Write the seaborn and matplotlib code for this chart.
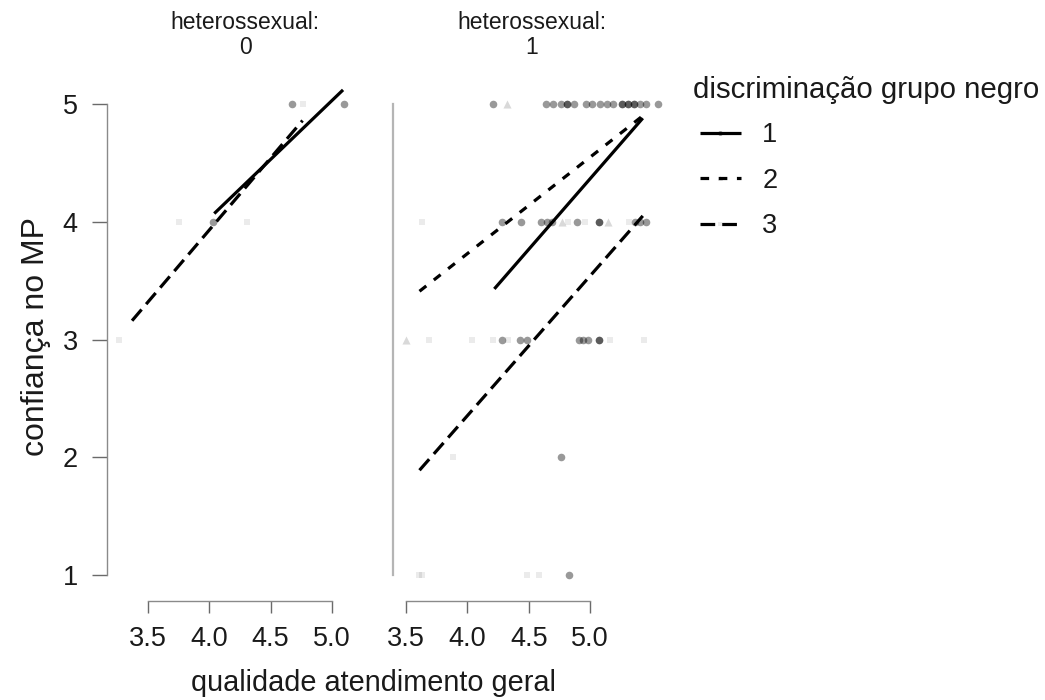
import numpy as np
import pandas as pd
import matplotlib
matplotlib.use("Agg")
import matplotlib.pyplot as plt
import seaborn as sns
from matplotlib.lines import Line2D

# ---------------- data ----------------
facet_labels = ["heterossexual:\n0", "heterossexual:\n1"]
group_levels = [1, 2, 3]
legend_title = "discriminação grupo negro"
x_label = "qualidade atendimento geral"
y_label = "confiança no MP"
x_ticks = [3.5, 4.0, 4.5, 5.0]
x_tick_labels = ["3.5", "4.0", "4.5", "5.0"]
y_ticks = [1, 2, 3, 4, 5]

# panel heterossexual = 0 : observed points
p0_x = [4.67, 5.10, 4.03, 3.75, 4.31, 4.76, 3.26]
p0_y = [5, 5, 4, 4, 4, 5, 3]
p0_g = [1, 1, 1, 3, 3, 3, 3]

# panel heterossexual = 1 : observed points
p1_x = [4.21, 4.64, 4.70, 4.76, 4.81, 4.81, 4.87, 4.97, 5.02, 5.08, 5.14, 5.19,
        5.26, 5.26, 5.31, 5.31, 5.36, 5.36, 5.41, 5.46, 5.55, 4.32,
        3.63, 4.82, 4.96, 5.32,
        4.28, 4.44, 4.60, 4.65, 4.69, 4.89, 5.07, 5.07, 5.37, 5.41, 5.46,
        4.77, 5.15,
        3.50,
        3.69, 4.04, 4.21, 4.33, 5.16, 5.44,
        4.28, 4.43, 4.49, 4.91, 4.94, 4.98, 5.07, 5.07,
        3.88, 4.76,
        3.61, 3.63, 4.49, 4.58, 4.83]
p1_y = [5, 5, 5, 5, 5, 5, 5, 5, 5, 5, 5, 5,
        5, 5, 5, 5, 5, 5, 5, 5, 5, 5,
        4, 4, 4, 4,
        4, 4, 4, 4, 4, 4, 4, 4, 4, 4, 4,
        4, 4,
        3,
        3, 3, 3, 3, 3, 3,
        3, 3, 3, 3, 3, 3, 3, 3,
        2, 2,
        1, 1, 1, 1, 1]
p1_g = [1, 1, 1, 1, 1, 1, 1, 1, 1, 1, 1, 1,
        1, 1, 1, 1, 1, 1, 1, 1, 1, 2,
        3, 3, 3, 3,
        1, 1, 1, 1, 1, 1, 1, 1, 1, 1, 1,
        2, 2,
        2,
        3, 3, 3, 3, 3, 3,
        1, 1, 1, 1, 1, 1, 1, 1,
        3, 1,
        3, 3, 3, 3, 1]

# fitted lines (start / end) per panel and group
l0_x = [4.04, 5.09, 3.37, 4.76]
l0_y = [4.07, 5.12, 3.16, 4.86]
l0_g = [1, 1, 3, 3]
l1_x = [4.22, 5.43, 3.61, 5.43, 3.61, 5.43]
l1_y = [3.43, 4.88, 3.41, 4.90, 1.89, 4.05]
l1_g = [1, 1, 2, 2, 3, 3]

# ---------------- styling ----------------
sns.set_theme(style="ticks")
plt.rcParams["font.family"] = ["Liberation Sans", "DejaVu Sans"]
plt.rcParams["lines.solid_capstyle"] = "butt"
plt.rcParams["lines.dash_capstyle"] = "butt"

pt_style = {1: dict(marker="o", color="black", alpha=0.40, s=30),
            2: dict(marker="^", color="black", alpha=0.15, s=34),
            3: dict(marker="s", color="black", alpha=0.08, s=24)}
line_style = {1: "-", 2: (0, (2.7, 3.0)), 3: (0, (4.6, 2.2))}
LW = 2.3
TXT = "#1a1a1a"

W, H = 1045, 700
fig = plt.figure(figsize=(W / 100, H / 100), dpi=100)


def ax_at(l, t, r, b):
    return fig.add_axes([l / W, 1 - b / H, (r - l) / W, (b - t) / H])


ax0 = ax_at(107, 78, 383, 590)
ax1 = ax_at(393, 78, 671, 590)

panels = [
    (ax0, pd.DataFrame({"x": p0_x, "y": p0_y, "g": p0_g}),
     pd.DataFrame({"x": l0_x, "y": l0_y, "g": l0_g}), (3.1658, 5.4157)),
    (ax1, pd.DataFrame({"x": p1_x, "y": p1_y, "g": p1_g}),
     pd.DataFrame({"x": l1_x, "y": l1_y, "g": l1_g}), (3.394, 5.660)),
]

for i, (ax, pts, lns, xl) in enumerate(panels):
    for g in [3, 2, 1]:
        d = pts[pts["g"] == g]
        if len(d):
            sns.scatterplot(data=d, x="x", y="y", ax=ax, linewidth=0,
                            legend=False, **pt_style[g])
    for g in group_levels:
        d = lns[lns["g"] == g]
        if len(d):
            sns.lineplot(data=d, x="x", y="y", ax=ax, color="black",
                         linewidth=LW, linestyle=line_style[g],
                         estimator=None, sort=False, legend=False)
    ax.set_xlim(*xl)
    ax.set_ylim(0.873, 5.221)
    ax.set_xlabel("")
    ax.set_ylabel("")
    for s in ["top", "right"]:
        ax.spines[s].set_visible(False)
    ax.spines["bottom"].set_position(("outward", 8))
    ax.spines["bottom"].set_bounds(3.5, 5.0)
    ax.spines["bottom"].set_color("#8a8a8a")
    ax.spines["bottom"].set_linewidth(1.0)
    ax.set_xticks(x_ticks)
    ax.set_xticklabels(x_tick_labels)
    ax.tick_params(axis="x", length=8.6, width=1.0, color="#6a6a6a", pad=9,
                   labelsize=19.5, labelcolor=TXT)
    ax.spines["left"].set_bounds(1, 5)
    ax.set_yticks(y_ticks)
    ax.set_facecolor("none")
    fig.text(((107 + 383) / 2 if i == 0 else (393 + 671) / 2) / W, 1 - 35 / H,
             facet_labels[i], ha="center", va="center", fontsize=16.5,
             linespacing=1.15, color=TXT)

ax0.spines["left"].set_color("#8a8a8a")
ax0.spines["left"].set_linewidth(1.0)
ax0.tick_params(axis="y", length=11, width=1.0, color="#6a6a6a", pad=10,
                labelsize=19.5, labelcolor=TXT)
ax1.spines["left"].set_color("#b5b5b5")
ax1.spines["left"].set_linewidth(1.6)
ax1.tick_params(axis="y", left=False, labelleft=False)

fig.text(373 / W, 1 - 683 / H, x_label, ha="center", va="center",
         fontsize=20.8, color=TXT)
fig.text(36 / W, 1 - 336 / H, y_label, ha="center", va="center",
         rotation=90, fontsize=23, color=TXT)

# legend: title as separate text, keys indented below it
fig.text(693 / W, 1 - 90 / H, legend_title, ha="left", va="center",
         fontsize=21.2, color=TXT)
handles = [
    Line2D([0], [0], color="black", lw=LW, linestyle=line_style[g],
           marker=pt_style[g]["marker"], markersize=3.5,
           markerfacecolor=(0, 0, 0, pt_style[g]["alpha"]),
           markeredgewidth=0)
    for g in group_levels
]
leg = fig.legend(handles, [str(g) for g in group_levels],
                 loc="upper left", bbox_to_anchor=(700 / W, 1 - 122 / H),
                 frameon=False, fontsize=19.5,
                 handlelength=1.5, handletextpad=0.8, labelspacing=0.72,
                 borderaxespad=0, borderpad=0, numpoints=1)
for t in leg.get_texts():
    t.set_color(TXT)

fig.savefig("out.png", dpi=100)
